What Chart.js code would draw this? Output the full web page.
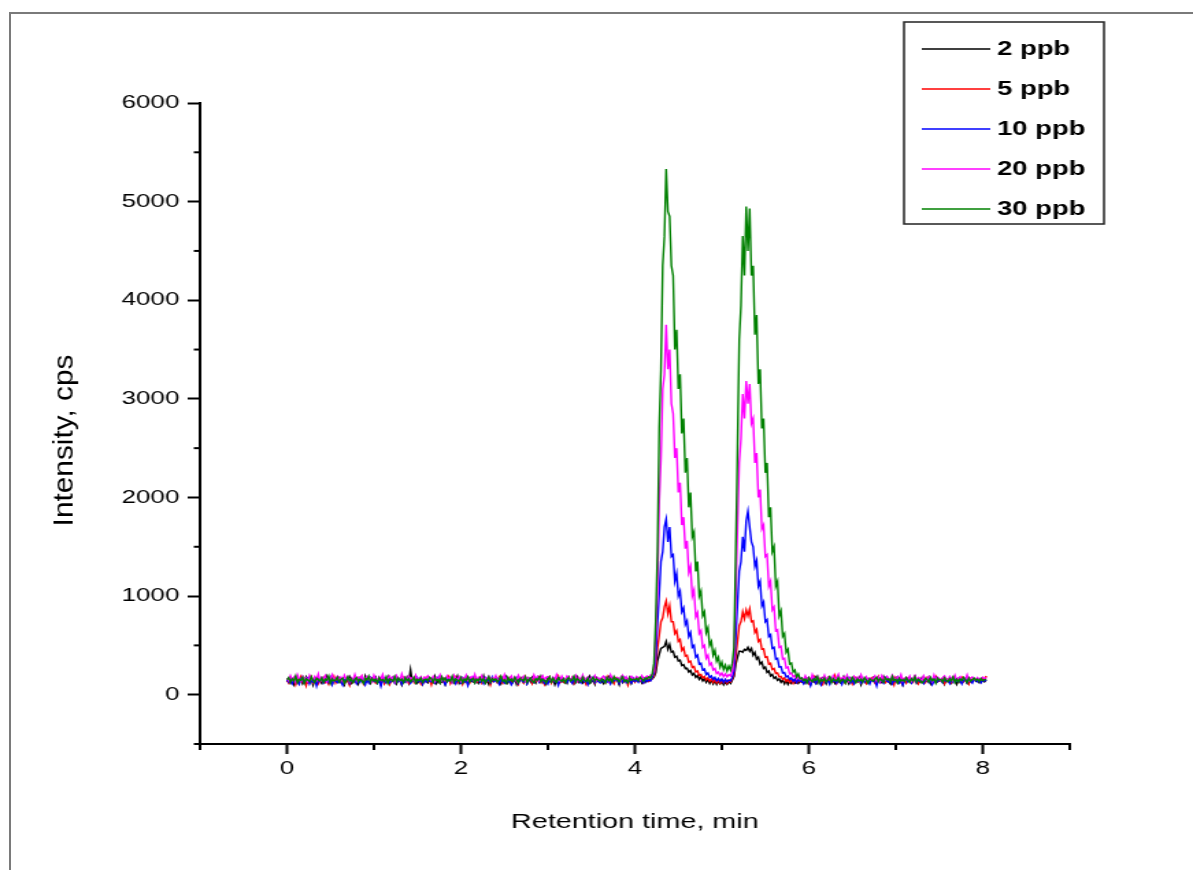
<!DOCTYPE html>
<html>
<head>
<meta charset="utf-8">
<title>Retention time chromatogram</title>
<script src="https://cdn.jsdelivr.net/npm/chart.js@4.4.1/dist/chart.umd.min.js"></script>
<style>
  html, body { margin: 0; padding: 0; background: #fff; overflow: hidden; }
  body { width: 1193px; height: 870px; position: relative; }
  /* the source picture is stretched sideways, so the chart is drawn narrow and scaled in x */
  #wrap { position: absolute; left: 0; top: 0; width: 871px; height: 870px;
          transform: scaleX(1.36969); transform-origin: 0 0; }
  #frame { position: absolute; left: 9px; top: 12px; right: 0; bottom: 0;
           border-top: 2px solid #7a7a7a; border-left: 2px solid #7a7a7a; pointer-events: none; }
</style>
</head>
<body>
<div id="wrap"><canvas id="chrom" width="871" height="870"></canvas></div>
<div id="frame"></div>
<script>
// ---- data (min / cps) ----
const time = [
  0.00,0.02,0.04,0.06,0.08,0.10,0.12,0.14,0.16,0.18,
  0.20,0.22,0.24,0.26,0.28,0.30,0.32,0.34,0.36,0.38,
  0.40,0.42,0.44,0.46,0.48,0.50,0.52,0.54,0.56,0.58,
  0.60,0.62,0.64,0.66,0.68,0.70,0.72,0.74,0.76,0.78,
  0.80,0.82,0.84,0.86,0.88,0.90,0.92,0.94,0.96,0.98,
  1.00,1.02,1.04,1.06,1.08,1.10,1.12,1.14,1.16,1.18,
  1.20,1.22,1.24,1.26,1.28,1.30,1.32,1.34,1.36,1.38,
  1.40,1.42,1.44,1.46,1.48,1.50,1.52,1.54,1.56,1.58,
  1.60,1.62,1.64,1.66,1.68,1.70,1.72,1.74,1.76,1.78,
  1.80,1.82,1.84,1.86,1.88,1.90,1.92,1.94,1.96,1.98,
  2.00,2.02,2.04,2.06,2.08,2.10,2.12,2.14,2.16,2.18,
  2.20,2.22,2.24,2.26,2.28,2.30,2.32,2.34,2.36,2.38,
  2.40,2.42,2.44,2.46,2.48,2.50,2.52,2.54,2.56,2.58,
  2.60,2.62,2.64,2.66,2.68,2.70,2.72,2.74,2.76,2.78,
  2.80,2.82,2.84,2.86,2.88,2.90,2.92,2.94,2.96,2.98,
  3.00,3.02,3.04,3.06,3.08,3.10,3.12,3.14,3.16,3.18,
  3.20,3.22,3.24,3.26,3.28,3.30,3.32,3.34,3.36,3.38,
  3.40,3.42,3.44,3.46,3.48,3.50,3.52,3.54,3.56,3.58,
  3.60,3.62,3.64,3.66,3.68,3.70,3.72,3.74,3.76,3.78,
  3.80,3.82,3.84,3.86,3.88,3.90,3.92,3.94,3.96,3.98,
  4.00,4.02,4.04,4.06,4.08,4.10,4.12,4.14,4.16,4.18,
  4.20,4.22,4.24,4.26,4.28,4.30,4.32,4.34,4.36,4.38,
  4.40,4.42,4.44,4.46,4.48,4.50,4.52,4.54,4.56,4.58,
  4.60,4.62,4.64,4.66,4.68,4.70,4.72,4.74,4.76,4.78,
  4.80,4.82,4.84,4.86,4.88,4.90,4.92,4.94,4.96,4.98,
  5.00,5.02,5.04,5.06,5.08,5.10,5.12,5.14,5.16,5.18,
  5.20,5.22,5.24,5.26,5.28,5.30,5.32,5.34,5.36,5.38,
  5.40,5.42,5.44,5.46,5.48,5.50,5.52,5.54,5.56,5.58,
  5.60,5.62,5.64,5.66,5.68,5.70,5.72,5.74,5.76,5.78,
  5.80,5.82,5.84,5.86,5.88,5.90,
  5.92,5.94,5.96,5.98,6.00,6.02,6.04,6.06,6.08,6.10,
  6.12,6.14,6.16,6.18,6.20,6.22,6.24,6.26,6.28,6.30,
  6.32,6.34,6.36,6.38,6.40,6.42,6.44,6.46,6.48,6.50,
  6.52,6.54,6.56,6.58,6.60,6.62,6.64,6.66,6.68,6.70,
  6.72,6.74,6.76,6.78,6.80,6.82,6.84,6.86,6.88,6.90,
  6.92,6.94,6.96,6.98,7.00,7.02,7.04,7.06,7.08,7.10,
  7.12,7.14,7.16,7.18,7.20,7.22,7.24,7.26,7.28,7.30,
  7.32,7.34,7.36,7.38,7.40,7.42,7.44,7.46,7.48,7.50,
  7.52,7.54,7.56,7.58,7.60,7.62,7.64,7.66,7.68,7.70,
  7.72,7.74,7.76,7.78,7.80,7.82,7.84,7.86,7.88,7.90,
  7.92,7.94,7.96,7.98,8.00,8.02,8.04
];

const ppb2 = [
  130,162,118,150,104,171,139,125,158,112,
  147,180,121,136,166,98,152,129,174,141,
  115,157,133,185,122,146,108,163,137,150,
  172,126,143,101,160,135,178,119,148,131,
  155,110,168,140,124,189,133,151,117,164,
  138,175,122,149,106,158,142,127,181,120,
  161,134,152,113,170,145,99,156,131,176,
  124,252,140,137,166,118,143,172,109,154,
  140,121,163,150,128,184,115,147,169,132,
  157,103,145,176,136,159,123,141,188,117,
  149,170,127,154,112,165,138,129,178,144,
  116,158,135,190,121,148,107,162,139,153,
  174,128,146,110,167,132,180,120,151,136,
  143,161,105,155,142,171,126,158,114,166,
  131,177,148,119,160,137,185,124,150,109,
  168,140,122,157,101,146,173,133,159,127,
  152,118,176,139,163,112,149,181,125,144,
  120,164,131,150,186,128,156,106,170,141,
  159,135,112,167,143,179,121,153,130,162,
  146,102,172,126,158,134,149,177,116,155,
  133,169,141,160,119,151,128,164,145,158,
  160,180,225,340,410,470,480,490,540,460,
  510,430,440,380,390,340,350,295,305,265,
  270,230,245,200,215,175,195,155,180,140,
  165,125,155,115,150,110,145,105,140,110,
  135,100,130,105,135,115,150,185,310,380,
  440,440,430,460,450,480,440,470,400,430,
  360,380,310,330,265,280,225,240,190,205,
  165,180,145,160,125,150,110,145,105,140,
  115,145,120,150,115,140,
  128,150,117,162,138,104,158,131,173,120,
  152,125,167,141,109,155,178,130,145,116,
  161,137,121,150,184,129,147,112,166,140,
  118,159,134,171,102,148,163,126,153,137,
  146,173,128,115,160,139,122,180,133,154,
  131,108,156,142,169,120,151,135,98,162,
  165,139,147,124,157,183,117,144,129,170,
  121,152,136,175,113,149,160,127,156,138,
  144,168,110,158,131,147,120,171,139,105,
  157,126,163,140,152,118,166,132,148,159,
  135,150,122,161,143,130,152
];

const ppb5 = [
  145,118,170,133,156,102,161,140,182,127,
  150,92,163,137,178,121,147,166,113,151,
  134,172,125,149,107,158,143,186,119,155,
  168,131,146,115,160,139,95,153,128,176,
  122,157,141,180,110,148,164,126,152,136,
  159,117,138,167,129,183,112,145,161,103,
  140,176,124,156,134,150,119,171,137,162,
  115,149,165,128,187,142,158,109,146,130,
  173,138,152,99,161,125,168,144,117,155,
  128,163,140,181,113,150,134,175,122,147,
  162,106,148,136,170,118,157,141,184,126,
  139,171,120,154,145,129,165,101,153,160,
  151,124,177,140,116,162,137,148,172,111,
  132,158,143,107,169,150,121,182,138,156,
  167,113,155,131,149,176,127,160,104,145,
  144,178,119,164,135,153,189,122,141,130,
  120,148,161,139,172,115,150,133,166,157,
  175,136,102,158,127,145,163,118,151,140,
  138,166,149,123,180,131,156,143,112,169,
  154,119,141,176,133,160,97,150,137,162,
  127,152,168,140,158,121,149,171,134,146,
  165,195,280,470,600,740,780,890,950,820,
  900,740,740,620,650,540,560,450,475,390,
  400,330,340,275,285,230,240,195,205,170,
  185,150,170,135,160,125,155,120,150,115,
  145,120,150,115,145,130,165,205,390,540,
  700,740,840,770,860,800,870,740,750,630,
  660,540,560,460,465,380,385,310,320,255,
  265,215,220,180,185,155,170,135,155,125,
  150,115,155,120,145,130,
  150,123,167,141,112,157,135,178,119,146,
  163,130,104,152,140,172,125,158,136,192,
  115,147,162,128,151,118,168,139,156,107,
  145,173,131,150,124,161,140,113,157,134,
  168,142,118,154,186,127,149,165,121,139,
  133,158,146,100,171,137,155,126,163,148,
  117,164,139,152,128,177,143,110,159,131,
  152,124,170,136,161,119,147,182,130,144,
  140,165,113,158,134,150,123,169,145,157,
  126,149,175,131,155,142,108,160,138,152,
  160,137,150,128,165,145,190
];

const ppb10 = [
  150,128,167,112,145,176,131,104,160,139,
  121,156,172,110,147,128,163,88,151,135,
  166,118,144,157,126,173,103,149,138,122,
  161,133,97,155,146,170,115,152,131,164,
  112,146,127,168,139,100,158,121,173,143,
  134,162,117,151,85,147,168,125,156,119,
  141,174,120,153,132,161,106,146,129,167,
  150,115,140,158,122,171,133,148,109,160,
  129,154,138,131,165,118,145,176,124,149,
  137,102,159,143,170,126,152,113,162,140,
  119,166,131,150,94,157,138,173,121,145,
  158,127,146,112,168,135,151,123,176,131,
  143,160,108,154,139,119,165,132,147,100,
  127,149,172,118,156,141,129,163,111,152,
  162,135,121,150,178,125,144,158,116,139,
  110,155,140,167,130,148,96,161,134,153,
  146,124,163,137,115,170,128,152,143,120,
  165,131,149,104,158,137,175,122,146,133,
  120,157,134,168,127,145,110,160,139,151,
  147,113,159,131,172,124,153,140,118,166,
  135,150,126,162,141,118,157,133,148,140,
  180,220,370,720,1020,1350,1450,1700,1780,1550,
  1700,1400,1420,1150,1230,1000,1050,840,880,710,
  750,590,630,480,500,380,400,310,320,250,
  260,205,220,175,190,155,175,140,165,135,
  160,125,155,130,150,140,175,240,580,920,
  1250,1350,1600,1450,1760,1860,1700,1550,1500,1300,
  1360,1100,1150,900,940,740,760,590,610,470,
  480,360,370,280,285,220,225,180,190,155,
  170,135,160,125,155,135,
  140,112,160,128,151,92,146,166,118,155,
  133,99,150,172,124,145,107,161,136,149,
  118,167,140,103,155,129,146,171,122,150,
  113,160,134,147,119,156,128,165,141,108,
  152,136,144,89,163,127,150,118,169,139,
  126,158,111,147,135,174,121,153,100,142,
  165,130,152,116,143,168,127,149,136,159,
  114,146,162,125,156,104,141,170,131,150,
  143,120,167,138,150,113,158,129,173,135,
  128,155,109,149,164,123,146,138,117,161,
  148,132,154,120,145,139,146
];

const ppb20 = [
  168,143,192,151,177,128,202,158,139,187,
  154,172,133,196,161,146,183,149,208,137,
  176,158,193,132,171,154,201,144,166,188,
  149,177,138,197,159,182,131,172,148,203,
  143,176,161,192,138,167,187,152,171,133,
  198,158,146,182,154,204,139,170,164,188,
  151,176,132,193,160,144,209,153,177,138,
  186,161,171,143,197,149,165,182,139,176,
  159,192,170,147,184,135,173,156,200,145,
  168,141,189,155,176,130,196,162,149,181,
  137,172,158,199,146,167,184,152,205,140,
  176,150,191,139,170,163,187,145,174,157,
  193,134,168,181,155,202,142,171,160,189,
  148,178,137,196,164,151,185,139,173,158,
  170,145,199,156,182,140,168,191,150,176,
  184,159,136,175,148,203,162,140,187,153,
  152,190,171,143,178,160,195,137,169,148,
  199,147,165,182,134,174,157,193,145,171,
  141,173,188,155,169,136,201,160,178,152,
  175,162,145,194,157,181,139,170,186,160,
  158,184,169,150,192,165,176,188,170,200,
  200,250,580,1050,1950,2400,3100,3250,3750,3300,
  3500,2950,2850,2400,2500,2050,2150,1720,1800,1480,
  1560,1240,1300,1000,1060,790,830,620,650,480,
  500,370,400,300,320,250,265,215,230,195,
  220,185,210,180,205,190,235,370,980,1700,
  2350,2600,3050,2800,3180,2950,3150,2750,2800,2350,
  2450,2000,2080,1680,1720,1400,1420,1100,1150,860,
  890,650,660,480,490,360,370,270,280,210,
  220,180,195,160,185,155,
  172,146,191,154,177,139,203,160,151,186,
  134,171,156,197,144,176,161,139,192,154,
  171,207,146,165,181,151,196,138,172,160,
  187,149,176,141,201,159,146,182,155,170,
  148,166,190,143,178,132,194,162,150,185,
  160,139,198,171,147,180,156,203,141,168,
  176,153,188,137,166,195,149,174,160,142,
  192,158,145,184,170,136,199,152,177,164,
  140,173,190,157,146,185,162,139,196,150,
  168,183,147,172,155,201,143,167,180,152,
  157,174,149,165,178,160,175
];

const ppb30 = [
  152,173,128,161,139,188,122,156,146,178,
  118,163,149,133,182,144,124,167,151,138,
  171,127,157,146,189,117,162,139,150,177,
  129,156,168,116,145,183,137,161,123,152,
  172,133,158,144,115,167,149,188,128,163,
  139,157,121,173,146,152,132,178,117,162,
  151,137,183,128,166,143,158,122,172,141,
  163,132,151,177,121,157,144,168,127,153,
  158,139,176,163,126,170,142,155,119,181,
  146,169,131,154,138,186,124,160,148,135,
  174,122,159,143,180,130,152,166,120,157,
  141,171,135,162,118,150,183,129,165,147,
  160,128,154,189,137,149,119,175,143,158,
  132,176,147,124,164,155,138,181,126,152,
  169,140,123,161,148,177,133,157,144,120,
  154,182,130,166,141,125,171,149,136,163,
  122,158,174,139,151,186,128,163,147,132,
  177,145,133,168,120,155,176,138,161,149,
  136,160,148,121,173,142,165,129,184,152,
  163,131,157,179,135,150,124,168,145,158,
  150,167,142,176,158,137,171,160,180,168,
  210,320,760,1450,2700,3300,4350,4650,5330,4900,
  4850,4350,4250,3500,3700,3100,3250,2650,2800,2250,
  2400,1900,2050,1600,1650,1250,1350,1000,1050,800,
  840,630,680,500,540,400,450,340,380,280,
  330,255,300,240,290,250,320,480,1450,2500,
  3600,3950,4650,4250,4950,4500,4930,4250,4350,3650,
  3850,3150,3300,2700,2800,2250,2350,1800,1900,1450,
  1500,1100,1150,800,850,590,620,430,460,310,
  320,230,250,180,210,160,
  168,141,157,122,173,149,133,162,146,183,
  119,158,140,167,128,152,178,123,163,144,
  139,172,129,156,151,117,168,146,134,177,
  153,122,161,139,157,128,173,146,118,162,
  149,138,158,176,132,165,143,127,170,151,
  161,130,186,144,156,121,167,139,153,135,
  173,147,126,162,140,181,131,158,145,120,
  138,165,152,129,175,143,160,118,168,150,
  155,127,171,146,134,163,141,179,124,157,
  131,160,143,174,149,122,166,138,152,169,
  147,158,136,163,141,152,155
];

const seriesLabels = ["2 ppb", "5 ppb", "10 ppb", "20 ppb", "30 ppb"];
const seriesValues = [ppb2, ppb5, ppb10, ppb20, ppb30];

const xMajor = [0, 2, 4, 6, 8];
const xMinor = [-1, 1, 3, 5, 7, 9];
const yMajor = [0, 1000, 2000, 3000, 4000, 5000, 6000];
const yMinor = [-500, 500, 1500, 2500, 3500, 4500, 5500];
const xTitle = "Retention time, min";
const yTitle = "Intensity, cps";

// ---- styling ----
const lineColors = ["#000000", "#ff0000", "#0000ff", "#ff00ff", "#008000"];
const FONT = '"Liberation Sans", Arial, sans-serif';

Chart.defaults.font.family = FONT;
Chart.defaults.color = "#000";

// short ticks between the labelled ones
const minorTicks = {
  id: "minorTicks",
  afterDraw(chart) {
    const { ctx, scales: { x, y } } = chart;
    ctx.save();
    ctx.strokeStyle = "#000";
    ctx.lineWidth = 2;
    xMinor.forEach(v => {
      const px = x.getPixelForValue(v);
      ctx.beginPath();
      ctx.moveTo(px, x.top);
      ctx.lineTo(px, x.top + 6);
      ctx.stroke();
    });
    yMinor.forEach(v => {
      const py = y.getPixelForValue(v);
      ctx.beginPath();
      ctx.moveTo(y.right, py);
      ctx.lineTo(y.right - 4.5, py);
      ctx.stroke();
    });
    ctx.restore();
  }
};

// y title: the reference stretches it along its length, like the rest of the text
const yAxisTitle = {
  id: "yAxisTitle",
  afterDraw(chart) {
    const c = chart.ctx;
    const y = chart.scales.y;
    c.save();
    c.translate(47.5, (y.top + y.bottom) / 2 + 17);
    c.rotate(-Math.PI / 2);
    c.scale(1.42, 1);
    c.font = "21px " + FONT;
    c.fillStyle = "#000";
    c.textAlign = "center";
    c.textBaseline = "middle";
    c.fillText(yTitle, 0, 0);
    c.restore();
  }
};

// boxed legend in the upper right corner
const boxLegend = {
  id: "boxLegend",
  afterDraw(chart) {
    const c = chart.ctx;
    c.save();
    c.strokeStyle = "#222";
    c.lineWidth = 1.5;
    c.strokeRect(660, 22, 146, 202);
    c.font = "bold 20px " + FONT;
    c.textBaseline = "middle";
    chart.data.datasets.forEach((ds, i) => {
      const ly = 49 + i * 40;
      c.strokeStyle = ds.borderColor;
      c.lineWidth = 1.5;
      c.beginPath();
      c.moveTo(673, ly);
      c.lineTo(723, ly);
      c.stroke();
      c.fillStyle = "#000";
      c.fillText(ds.label, 728, ly);
    });
    c.restore();
  }
};

const ctx = document.getElementById("chrom").getContext("2d");

new Chart(ctx, {
  type: "line",
  data: {
    datasets: seriesValues.map((vals, i) => ({
      label: seriesLabels[i],
      data: time.map((t, k) => ({ x: t, y: vals[k] })),
      borderColor: lineColors[i],
      backgroundColor: lineColors[i],
      borderWidth: 1.4,
      pointRadius: 0,
      tension: 0,
      fill: false,
      order: seriesLabels.length - i
    }))
  },
  options: {
    responsive: false,
    animation: false,
    layout: { padding: { left: 0, top: 103, right: 90, bottom: 0 } },
    plugins: {
      legend: { display: false },
      tooltip: { enabled: false }
    },
    scales: {
      x: {
        type: "linear",
        min: -1,
        max: 9,
        afterBuildTicks: s => { s.ticks = xMajor.map(v => ({ value: v })); },
        afterFit: s => { s.height = 126; },
        grid: { drawOnChartArea: false, drawTicks: true, tickLength: 10, tickWidth: 2, tickColor: "#000" },
        border: { display: true, color: "#000", width: 2 },
        ticks: { font: { size: 19 }, padding: 3, maxRotation: 0, callback: v => String(v) },
        title: { display: true, text: xTitle, font: { size: 21 }, padding: { top: 0, bottom: 35 } }
      },
      y: {
        type: "linear",
        min: -500,
        max: 6000,
        afterBuildTicks: s => { s.ticks = yMajor.map(v => ({ value: v })); },
        afterFit: s => { s.width = 146; },
        grid: { drawOnChartArea: false, drawTicks: true, tickLength: 9, tickWidth: 2, tickColor: "#000" },
        border: { display: true, color: "#000", width: 2 },
        ticks: { font: { size: 19 }, padding: 6, callback: v => String(v) },
        title: { display: false }
      }
    }
  },
  plugins: [minorTicks, yAxisTitle, boxLegend]
});
</script>
</body>
</html>
